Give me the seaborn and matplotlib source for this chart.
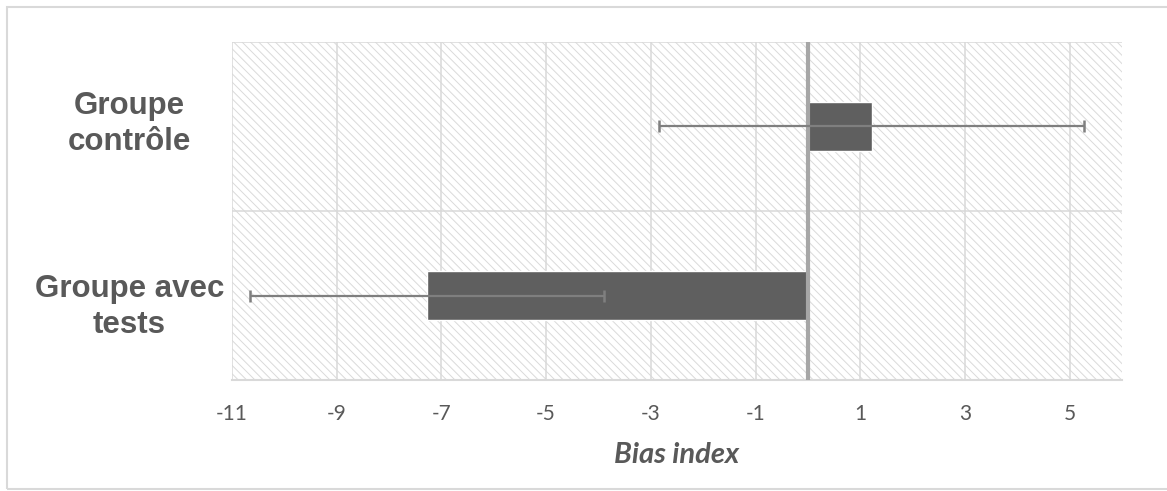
import numpy as np
import pandas as pd
import matplotlib
matplotlib.use("Agg")
import matplotlib.pyplot as plt
from matplotlib.patches import Rectangle
from matplotlib.transforms import ScaledTranslation
import seaborn as sns

# values
groups = ["Groupe\ncontrôle", "Groupe avec\ntests"]
bias_mean = [1.22, -7.28]
bias_err = [4.06, 3.38]
x_ticks = [-11, -9, -7, -5, -3, -1, 1, 3, 5]
x_label = "Bias index"

TEXT = "#595959"
GRID = "#d9d9d9"

sns.set_style("white")
plt.rcParams["font.family"] = ["Lato", "DejaVu Sans"]
plt.rcParams["axes.unicode_minus"] = False
plt.rcParams["hatch.linewidth"] = 0.7

df = pd.DataFrame({"groupe": groups, "bias": bias_mean})

fig = plt.figure(figsize=(11.67, 4.91), dpi=100)
ax = fig.add_axes([232 / 1167, 1 - 380 / 491, 890 / 1167, 338 / 491])

# light hatched plot background
ax.add_patch(Rectangle((0, 0), 1, 1, transform=ax.transAxes, facecolor="white",
                       edgecolor="#dadada", hatch="\\\\\\\\", lw=0, zorder=0.1))

sns.barplot(data=df, x="bias", y="groupe", orient="h", color="#5f5f5f",
            width=0.29, saturation=1, errorbar=None, ax=ax, zorder=3)

ax.axvline(0, color="#a6a6a6", lw=3, zorder=3.5)
ax.errorbar(bias_mean, np.arange(len(groups)), xerr=bias_err, fmt="none",
            ecolor="#7f7f7f", elinewidth=1.6, capsize=4.5, capthick=1.8, zorder=4)

ax.set_xlim(-11, 6)
ax.set_ylim(len(groups) - 0.5, -0.5)
ax.set_xticks(x_ticks)
ax.set_yticks(np.arange(len(groups) + 1) - 0.5, minor=True)

ax.set_axisbelow(True)
ax.grid(axis="x", which="major", color=GRID, lw=1.1)
ax.grid(axis="y", which="minor", color=GRID, lw=1.1)
ax.grid(axis="y", which="major", visible=False)

for side in ["top", "right", "left"]:
    ax.spines[side].set_visible(False)
ax.spines["bottom"].set_color(GRID)
ax.spines["bottom"].set_linewidth(1.5)

ax.tick_params(axis="x", length=0, pad=17, labelsize=15, labelcolor=TEXT)
ax.tick_params(axis="y", which="both", length=0, pad=74, labelcolor=TEXT)

ax.set_ylabel("")
ax.set_xlabel(x_label, fontsize=21, fontweight="bold", fontstyle="italic",
              color=TEXT, labelpad=13)

# category labels sit a bit away from the band centre in the original
label_nudge = [6.5, -3.6]  # points
for lab, dy in zip(ax.get_yticklabels(), label_nudge):
    lab.set_fontfamily(["Liberation Sans", "DejaVu Sans"])
    lab.set_fontweight("bold")
    lab.set_fontsize(22.5)
    lab.set_ha("center")
    lab.set_multialignment("center")
    lab.set_linespacing(1.25)
    lab.set_transform(lab.get_transform() + ScaledTranslation(0, dy / 72, fig.dpi_scale_trans))

# thin frame around the whole chart, right side cut off like the reference
fig.patches.append(Rectangle((7 / 1167, 2 / 491), 1.1, 482 / 491,
                             transform=fig.transFigure, fill=False,
                             edgecolor=GRID, lw=1.5))

fig.savefig("out.png", dpi=100)
